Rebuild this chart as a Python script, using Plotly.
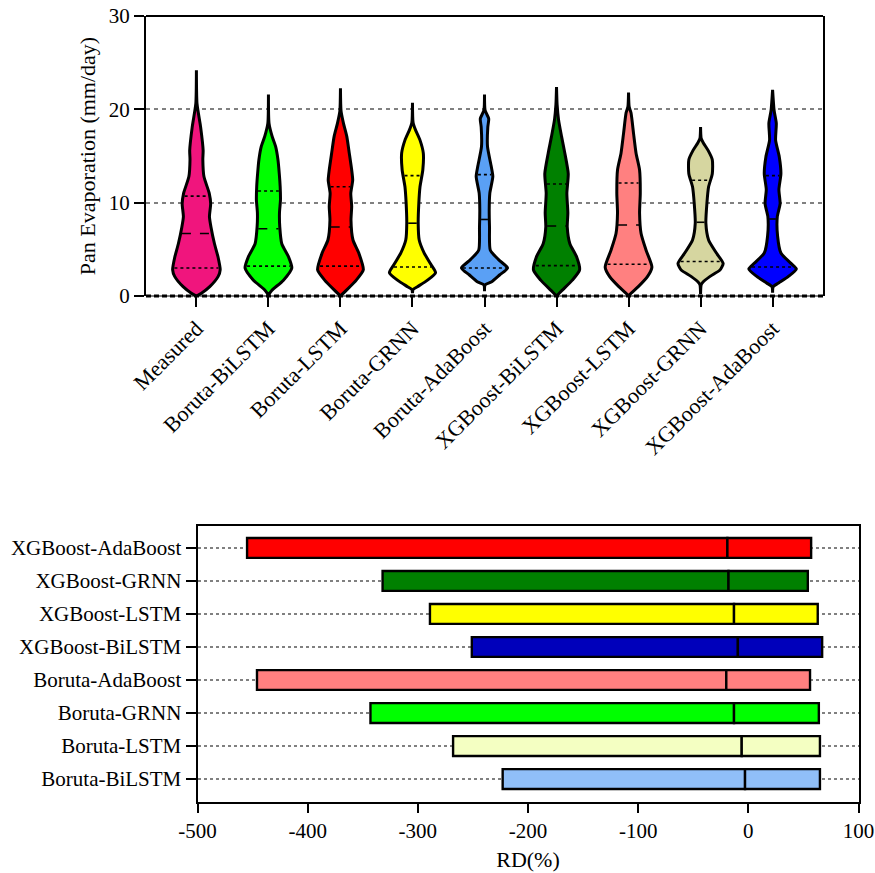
import numpy as np
import plotly.graph_objects as go

# ---------------- violin panel data ----------------
models = ["Measured", "Boruta-BiLSTM", "Boruta-LSTM", "Boruta-GRNN", "Boruta-AdaBoost",
          "XGBoost-BiLSTM", "XGBoost-LSTM", "XGBoost-GRNN", "XGBoost-AdaBoost"]
violin_colors = ["#F0157D", "#00FF00", "#FF0000", "#FFFF00", "#5AA0F5",
                 "#008000", "#FF8080", "#D6D6A0", "#0000FF"]

# quartiles (mm/day)
q1 = [3.0, 3.2, 3.2, 3.1, 3.0, 3.25, 3.4, 3.7, 3.1]
median = [6.7, 7.2, 7.4, 7.8, 8.2, 7.5, 7.6, 7.9, 8.25]
q3 = [10.7, 11.25, 11.7, 12.9, 13.0, 12.0, 12.1, 12.4, 12.9]

# density profiles: evaporation levels (top -> bottom) and relative density
measured_lvl = [24.2, 20.6, 18.1, 15.6, 14.6, 12.8, 11.0, 9.9, 8.5, 7.4, 5.6, 4.2, 2.8, 2.1, 1.0, 0.3, 0.0]
measured_den = [0, 0.6, 4.2, 6.7, 6.4, 7.5, 12.8, 14.2, 13.0, 14.5, 18, 21.5, 23.7, 21.7, 13.3, 5, 0]
b_bilstm_lvl = [21.6, 18.5, 17.1, 16.0, 14.6, 13.1, 11.7, 10.3, 8.9, 7.4, 5.6, 4.2, 3.0, 1.7, 0.6, 0.1]
b_bilstm_den = [0, 0.6, 3.7, 7.2, 9.5, 10.8, 11.7, 12, 11, 11.3, 13.3, 20, 23.3, 15, 3.3, 0]
b_lstm_lvl = [22.25, 19.8, 18.5, 17.1, 15.3, 13.5, 12.4, 11.0, 9.6, 8.1, 6.0, 4.6, 2.8, 1.7, 0.6, 0.0]
b_lstm_den = [0, 0.6, 3, 6.3, 8.8, 11.2, 12.2, 10.3, 11.2, 10.5, 12.5, 18.3, 22.8, 15.8, 5.8, 0]
b_grnn_lvl = [20.7, 18.6, 17.8, 16.7, 15.3, 13.5, 11.7, 9.9, 7.8, 6.0, 4.6, 3.4, 2.5, 1.7, 1.0, 0.7, 0.3]
b_grnn_den = [0, 0.6, 3, 7.5, 10.8, 10.3, 7.5, 6.3, 5.7, 6.7, 11.7, 18.3, 23, 15, 5, 0.6, 0]
b_ada_lvl = [21.6, 19.9, 19.0, 18.1, 16.0, 13.9, 12.8, 11.0, 9.2, 7.4, 4.9, 3.9, 3.0, 2.25, 1.5, 1.2, 0.5]
b_ada_den = [0, 0.6, 4.2, 3.3, 3, 6.7, 8.3, 5.3, 4.7, 5, 5.8, 14, 23, 15, 6.7, 0.6, 0]
x_bilstm_lvl = [22.4, 20.5, 18.9, 17.1, 15.3, 13.1, 11.0, 8.9, 7.4, 5.6, 4.2, 2.8, 1.7, 0.6, 0.0]
x_bilstm_den = [0, 0.6, 2, 5, 8.3, 11.7, 10.3, 11.3, 10.7, 13.3, 20, 23, 15.8, 5.5, 0]
x_lstm_lvl = [21.8, 20.3, 19.6, 17.4, 15.3, 13.5, 11.0, 8.9, 6.7, 4.9, 3.1, 2.1, 1.0, 0.3, 0.0]
x_lstm_den = [0, 0.6, 2.5, 5, 7.5, 11, 11.7, 11, 12.5, 17.5, 23.3, 19, 9.7, 2.5, 0]
x_grnn_lvl = [18.1, 16.9, 16.4, 15.6, 14.6, 13.1, 11.7, 9.9, 7.8, 6.0, 4.6, 3.5, 2.8, 2.1, 1.5, 1.2, 0.2]
x_grnn_den = [0, 0.6, 2.8, 7.5, 11.7, 11.7, 8, 6.3, 5.3, 8, 15.8, 22.5, 19.5, 9.5, 2.5, 0.6, 0]
x_ada_lvl = [22.1, 19.9, 18.5, 16.7, 14.9, 13.1, 11.4, 9.9, 8.5, 6.4, 4.6, 3.5, 2.9, 2.1, 1.4, 1.0, 0.36]
x_ada_den = [0, 1.5, 3.7, 3, 6.7, 8.3, 6.3, 7.5, 4.7, 5, 8.3, 18.3, 23.7, 15.8, 6, 0.6, 0]

profiles = [
    (measured_lvl, measured_den), (b_bilstm_lvl, b_bilstm_den), (b_lstm_lvl, b_lstm_den),
    (b_grnn_lvl, b_grnn_den), (b_ada_lvl, b_ada_den), (x_bilstm_lvl, x_bilstm_den),
    (x_lstm_lvl, x_lstm_den), (x_grnn_lvl, x_grnn_den), (x_ada_lvl, x_ada_den),
]
evap_ticks = [0, 10, 20, 30]

# ---------------- relative deviation panel data ----------------
rd_models = ["Boruta-BiLSTM", "Boruta-LSTM", "Boruta-GRNN", "Boruta-AdaBoost",
             "XGBoost-BiLSTM", "XGBoost-LSTM", "XGBoost-GRNN", "XGBoost-AdaBoost"]
rd_min = [-223, -268, -343, -446, -251, -289, -332, -455]
rd_med = [-3, -6, -13, -20, -9.5, -13, -18, -19]
rd_max = [65, 65, 64, 56, 67, 63, 54, 57]
rd_colors = ["#90BFF8", "#F4FFC2", "#00FF00", "#FF8080",
             "#0000BB", "#FFFF00", "#008000", "#FF0000"]
rd_ticks = [-500, -400, -300, -200, -100, 0, 100]

FONT = "Liberation Serif"
W, H = 875, 873
fig = go.Figure()

# violins drawn as closed outlines around each category position
max_den = max(max(d) for _, d in profiles)
half = 0.33
for i, ((lvl, den), col) in enumerate(zip(profiles, violin_colors)):
    lvl = np.asarray(lvl, float)
    hw = np.asarray(den, float) / max_den * half
    xs = np.concatenate([i + hw, (i - hw)[::-1], [i + hw[0]]])
    ys = np.concatenate([lvl, lvl[::-1], [lvl[0]]])
    fig.add_trace(go.Scatter(x=xs, y=ys, mode="lines", fill="toself", fillcolor=col,
                             line=dict(color="black", width=3, shape="spline", smoothing=0.6),
                             hoverinfo="skip", showlegend=False, xaxis="x", yaxis="y"))
    # quartile and median lines
    lv_asc = lvl[::-1]
    hw_asc = hw[::-1]
    for val, dash in ((q1[i], "dot"), (median[i], "dash"), (q3[i], "dot")):
        w = np.interp(val, lv_asc, hw_asc) - 0.02
        fig.add_trace(go.Scatter(x=[i - w, i + w], y=[val, val], mode="lines",
                                 line=dict(color="black", width=1.6, dash=dash),
                                 hoverinfo="skip", showlegend=False, xaxis="x", yaxis="y"))

# floating bars split at the median so the median shows as a divider
for j, name in enumerate(rd_models):
    fig.add_trace(go.Bar(y=[name], x=[rd_med[j] - rd_min[j]], base=[rd_min[j]], orientation="h",
                         marker=dict(color=rd_colors[j], line=dict(color="black", width=2.4)),
                         width=0.6, showlegend=False, xaxis="x2", yaxis="y2"))
    fig.add_trace(go.Bar(y=[name], x=[rd_max[j] - rd_med[j]], base=[rd_med[j]], orientation="h",
                         marker=dict(color=rd_colors[j], line=dict(color="black", width=2.4)),
                         width=0.6, showlegend=False, xaxis="x2", yaxis="y2"))

tickfont = dict(family=FONT, size=21, color="black")

fig.update_layout(
    width=W, height=H,
    margin=dict(l=0, r=0, t=0, b=0),
    paper_bgcolor="white", plot_bgcolor="white",
    barmode="overlay",
    font=dict(family=FONT, size=21, color="black"),
    xaxis=dict(domain=[146 / W, 823 / W], range=[-0.7, 8.7], automargin=False,
               tickmode="array", tickvals=list(range(len(models))), ticktext=models,
               tickangle=-45, tickfont=dict(family=FONT, size=22, color="black"),
               ticks="outside", ticklen=10, tickwidth=1.5, tickcolor="black",
               showgrid=False, zeroline=False, showline=False, anchor="y"),
    yaxis=dict(domain=[(H - 296) / H, (H - 16) / H], range=[0, 30], automargin=False,
               tickmode="array", tickvals=evap_ticks, ticktext=[str(v) for v in evap_ticks],
               tickfont=tickfont,
               ticks="outside", ticklen=10, tickwidth=1.5, tickcolor="black",
               showline=True, linecolor="black", linewidth=2, mirror=True,
               showgrid=True, gridcolor="#808080", gridwidth=1.5, griddash="4px,4px",
               zeroline=False, anchor="x",
               title=dict(text="Pan Evaporation (mm/day)",
                          font=dict(family=FONT, size=22, color="black"), standoff=7)),
    xaxis2=dict(domain=[197.5 / W, 858.5 / W], range=[-500, 100], automargin=False,
                tickmode="array", tickvals=rd_ticks, ticktext=[str(v) for v in rd_ticks],
                tickfont=tickfont,
                ticks="outside", ticklen=9, tickwidth=1.5, tickcolor="black",
                showline=True, linecolor="black", linewidth=2, mirror=True,
                showgrid=False, zeroline=False, anchor="y2",
                title=dict(text="RD(%)", font=dict(family=FONT, size=22, color="black"),
                           standoff=10)),
    yaxis2=dict(domain=[71.5 / H, 347.5 / H], type="category", automargin=False,
                categoryorder="array", categoryarray=rd_models, range=[-0.68, 7.68],
                tickfont=tickfont, ticks="outside", ticklen=10, tickwidth=1.5, tickcolor="black",
                showline=True, linecolor="black", linewidth=2, mirror=True,
                showgrid=True, gridcolor="#808080", gridwidth=1.5, griddash="dot",
                zeroline=False, anchor="x2"),
)

# top border solid, bottom edge of the violin panel drawn dashed
fig.add_shape(type="line", xref="x domain", yref="y domain", x0=0, x1=1, y0=1, y1=1,
              line=dict(color="black", width=2))
fig.add_shape(type="line", xref="x domain", yref="y domain", x0=0, x1=1, y0=0, y1=0,
              line=dict(color="black", width=1))
fig.add_shape(type="line", xref="x domain", yref="y domain", x0=0, x1=1, y0=0, y1=0,
              line=dict(color="black", width=3, dash="5px,3px"))

fig.write_html("out.html")
